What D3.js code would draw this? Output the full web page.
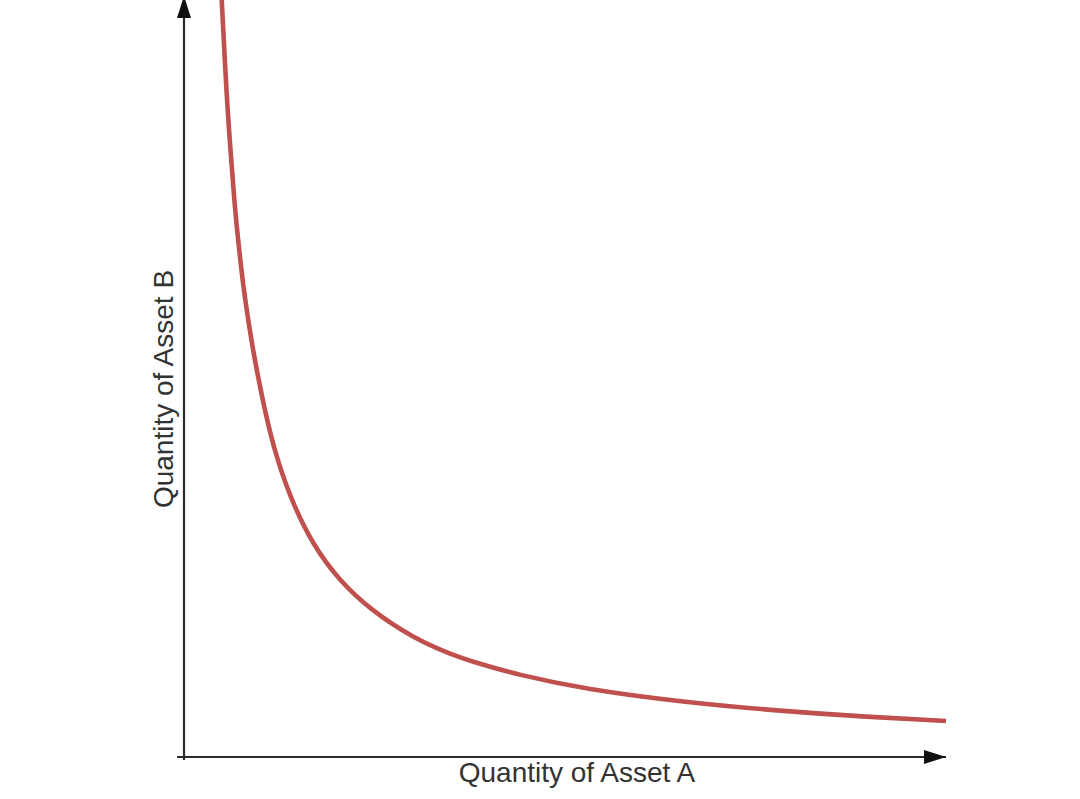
<!DOCTYPE html>
<html>
<head>
<meta charset="utf-8">
<script src="https://cdn.jsdelivr.net/npm/d3@7"></script>
<style>
  html, body { margin: 0; padding: 0; background: #fff; }
  svg { display: block; }
</style>
</head>
<body>
<svg id="chart" width="1080" height="799"></svg>
<script>
// Data (arbitrary units, 0-100 on both axes)
const assetA = [4.95, 5.62, 6.1, 6.58, 7.22, 8.0, 9.03, 10.3, 11.7, 13.9, 16.9, 20.4, 24.4, 30.1, 34.9, 38.8, 43.7, 52.4, 65.5, 78.6, 89.6, 100];
const assetB = [100, 86.8, 80.2, 73.6, 67.0, 60.4, 53.8, 47.2, 41, 34.3, 28.0, 23.3, 19.5, 15.7, 13.6, 12.3, 10.9, 9.0, 7.25, 6.05, 5.3, 4.76];
const xLabel = "Quantity of Asset A";
const yLabel = "Quantity of Asset B";

const svg = d3.select("#chart");
const x = d3.scaleLinear().domain([0, 100]).range([184, 946]);
const y = d3.scaleLinear().domain([0, 100]).range([757, 0]);

const axisColor = "#2b2b2b";
const defs = svg.append("defs");
defs.append("marker")
  .attr("id", "arrow")
  .attr("viewBox", "0 0 22 14")
  .attr("refX", 22).attr("refY", 7)
  .attr("markerWidth", 22).attr("markerHeight", 14)
  .attr("markerUnits", "userSpaceOnUse")
  .attr("orient", "auto")
  .append("path")
  .attr("d", "M0,0 L22,7 L0,14 Z")
  .attr("fill", "#111");

// x axis
svg.append("line")
  .attr("x1", x(0) - 7).attr("y1", y(0))
  .attr("x2", x(100)).attr("y2", y(0))
  .attr("stroke", axisColor).attr("stroke-width", 2.2)
  .attr("marker-end", "url(#arrow)");

// y axis
svg.append("line")
  .attr("x1", x(0)).attr("y1", y(0) + 3)
  .attr("x2", x(0)).attr("y2", y(100) - 4)
  .attr("stroke", axisColor).attr("stroke-width", 2.2)
  .attr("marker-end", "url(#arrow)");

// curve
const pts = assetA.map((a, i) => [a, assetB[i]]);
const line = d3.line()
  .x(d => x(d[0]))
  .y(d => y(d[1]))
  .curve(d3.curveBasis);

svg.append("path")
  .datum(pts)
  .attr("d", line)
  .attr("fill", "none")
  .attr("stroke", "#c0504d")
  .attr("stroke-width", 4.6)
  .attr("stroke-linecap", "butt");

// labels
svg.append("text")
  .attr("x", 577)
  .attr("y", 782)
  .attr("text-anchor", "middle")
  .attr("font-family", "'Liberation Sans', Arial, sans-serif")
  .attr("font-size", 28)
  .attr("fill", "#333")
  .text(xLabel);

svg.append("text")
  .attr("transform", "translate(173,389) rotate(-90)")
  .attr("text-anchor", "middle")
  .attr("font-family", "'Liberation Sans', Arial, sans-serif")
  .attr("font-size", 28)
  .attr("fill", "#333")
  .text(yLabel);
</script>
</body>
</html>
